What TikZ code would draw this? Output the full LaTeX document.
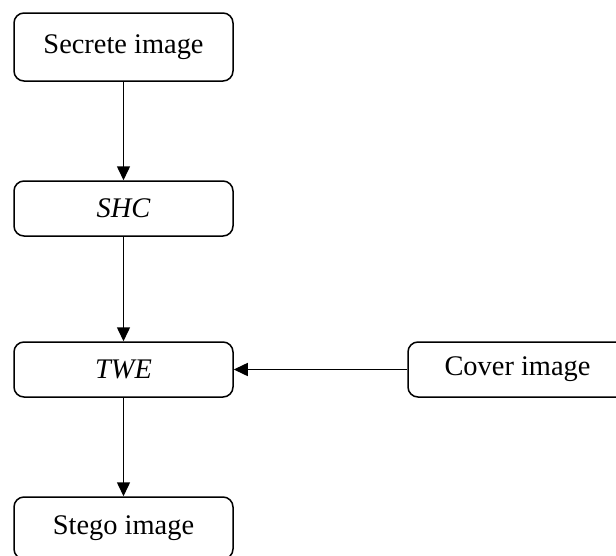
\documentclass[tikz,border=0pt]{standalone}
\usepackage{fontspec}
\setmainfont{Liberation Serif}
\usetikzlibrary{arrows.meta}
\begin{document}
\begin{tikzpicture}[x=1pt,y=-1pt,
  box/.style={draw, line width=1.5pt, rounded corners=10pt, minimum width=219pt, minimum height=55pt, inner sep=0pt, font=\fontsize{28.4}{34}\selectfont},
  arr/.style={line width=1.5pt, -{Triangle[length=14pt,width=13pt]}}]
\useasboundingbox (0,0) rectangle (616,555);
\node[box, minimum height=68pt] (secret) at (123.5,47) {Secrete image};
\node[box] (shc) at (123.5,208.5) {\itshape SHC};
\node[box] (twe) at (123.5,369.5) {\itshape TWE};
\node[box] (cover) at (517.5,369.5) {Cover image};
\node[box, minimum height=62pt] (stego) at (123.5,528) {Stego image};
\draw[arr] (secret) -- (shc);
\draw[arr] (shc) -- (twe);
\draw[arr] (twe) -- (stego);
\draw[arr] (cover) -- (twe);
\end{tikzpicture}
\end{document}
